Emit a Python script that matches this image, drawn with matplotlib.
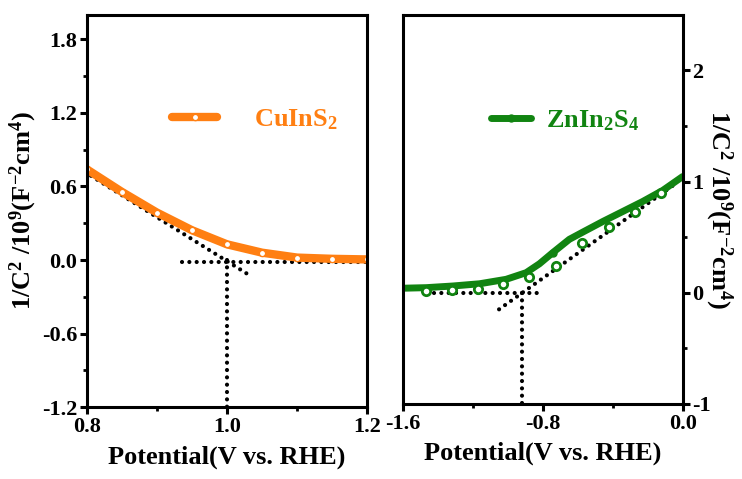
import matplotlib
matplotlib.use('Agg')
import matplotlib.pyplot as plt

plt.rcParams['font.family'] = ['Liberation Serif', 'DejaVu Serif']
plt.rcParams['font.weight'] = 'bold'
plt.rcParams['mathtext.default'] = 'regular'
plt.rcParams['axes.unicode_minus'] = False

# CuInS2 (left panel)
cu_x = [0.80, 0.85, 0.90, 0.95, 1.00, 1.05, 1.10, 1.15, 1.20]
cu_y = [0.74, 0.556, 0.387, 0.243, 0.128, 0.06, 0.02, 0.01, 0.005]
cu_tan_x = [0.806, 1.03]
cu_tan_y = [0.687, -0.117]
cu_base_x = [0.936, 1.2]
cu_base_y = [-0.012, -0.012]
cu_vert_x = [1.0, 1.0]
cu_vert_y = [0.0, -1.2]

# ZnIn2S4 (right panel)
zn_x = [-1.6, -1.467, -1.314, -1.162, -1.01, -0.895, -0.819, -0.743, -0.648,
        -0.571, -0.457, -0.343, -0.229, -0.114, 0.0]
zn_y = [0.04, 0.045, 0.06, 0.08, 0.12, 0.18, 0.26, 0.36, 0.48,
        0.545, 0.64, 0.73, 0.82, 0.92, 1.045]
zn_pts_x = [-1.467, -1.32, -1.17, -1.029, -0.876, -0.724, -0.575, -0.423, -0.272, -0.124]
zn_pts_y = [0.015, 0.02, 0.03, 0.08, 0.14, 0.24, 0.45, 0.59, 0.73, 0.90]
zn_tan_x = [-1.05, -0.05]
zn_tan_y = [-0.15, 0.97]
zn_base_x = [-1.42, -0.83]
zn_base_y = [0.0, 0.0]
zn_vert_x = [-0.92, -0.92]
zn_vert_y = [0.0, -1.0]

orange = '#ff7f12'
green = '#118411'

fig = plt.figure(figsize=(7.42, 4.79), dpi=100)
ax1 = fig.add_axes([0.117, 0.150, 0.378, 0.819])
ax2 = fig.add_axes([0.543, 0.157, 0.377, 0.812])

dot = dict(color='black', linestyle=(0, (0.01, 1.75)), linewidth=3.0, dash_capstyle='round')

ax1.plot(cu_tan_x, cu_tan_y, **dot)
ax1.plot(cu_base_x, cu_base_y, **dot)
ax1.plot(cu_vert_x, cu_vert_y, **dot)
ax1.plot(cu_x, cu_y, color=orange, lw=6, marker='o', ms=4.5, mfc='white',
         mec=orange, mew=1, label=r'CuInS$_2$', solid_capstyle='round')
ax1.set_xlim(0.8, 1.2)
ax1.set_ylim(-1.2, 2.0)
ax1.set_xticks([0.8, 1.0, 1.2])
ax1.set_xticks([0.9, 1.1], minor=True)
ax1.set_yticks([-1.2, -0.6, 0.0, 0.6, 1.2, 1.8])
ax1.set_yticks([-0.9, -0.3, 0.3, 0.9, 1.5], minor=True)
ax1.set_xticklabels(['0.8', '1.0', '1.2'])
ax1.set_yticklabels(['-1.2', '-0.6', '0.0', '0.6', '1.2', '1.8'])
ax1.set_xlabel('Potential(V vs. RHE)', fontsize=19, fontweight='bold', labelpad=6)
ax1.set_ylabel(r'1/C$^2$ /10$^9$(F$^{-2}$cm$^4$)', fontsize=19, fontweight='bold', labelpad=2)
ax1.legend(loc='upper left', bbox_to_anchor=(0.22, 0.825), frameon=False,
           handlelength=1.7, handletextpad=1.4, labelcolor=orange,
           prop={'size': 19, 'weight': 'bold'})

ax2.plot(zn_tan_x, zn_tan_y, **dot)
ax2.plot(zn_base_x, zn_base_y, **dot)
ax2.plot(zn_vert_x, zn_vert_y, **dot)
ax2.plot(zn_x, zn_y, color=green, lw=5, solid_capstyle='round',
         label=r'ZnIn$_2$S$_4$', marker='o', markevery=[7], ms=5, mfc=green, mec=green)
ax2.plot(zn_pts_x, zn_pts_y, linestyle='none', marker='o', ms=6, mfc='white',
         mec=green, mew=2)
ax2.set_xlim(-1.6, 0.0)
ax2.set_ylim(-1.0, 2.5)
ax2.set_xticks([-1.6, -0.8, 0.0])
ax2.set_xticks([-1.2, -0.4], minor=True)
ax2.set_xticklabels(['-1.6', '-0.8', '0.0'])
ax2.set_yticks([-1, 0, 1, 2])
ax2.set_yticks([-0.5, 0.5, 1.5], minor=True)
ax2.set_yticklabels(['-1', '0', '1', '2'])
ax2.yaxis.tick_right()
ax2.yaxis.set_label_position('right')
ax2.set_xlabel('Potential(V vs. RHE)', fontsize=19, fontweight='bold', labelpad=6)
ax2.set_ylabel(r'1/C$^2$ /10$^9$(F$^{-2}$cm$^4$)', fontsize=19, fontweight='bold',
               rotation=270, labelpad=17)
ax2.legend(loc='upper left', bbox_to_anchor=(0.23, 0.82), frameon=False,
           handlelength=1.5, handletextpad=0.6, labelcolor=green,
           prop={'size': 19, 'weight': 'bold'})

for ax in (ax1, ax2):
    for s in ax.spines.values():
        s.set_linewidth(2.2)
    ax.tick_params(which='major', direction='out', length=5, width=2.2, labelsize=16, pad=2)
    ax.tick_params(which='minor', direction='out', length=3, width=2)
    for lab in ax.get_xticklabels() + ax.get_yticklabels():
        lab.set_fontweight('bold')

fig.savefig('out.png', dpi=100)
